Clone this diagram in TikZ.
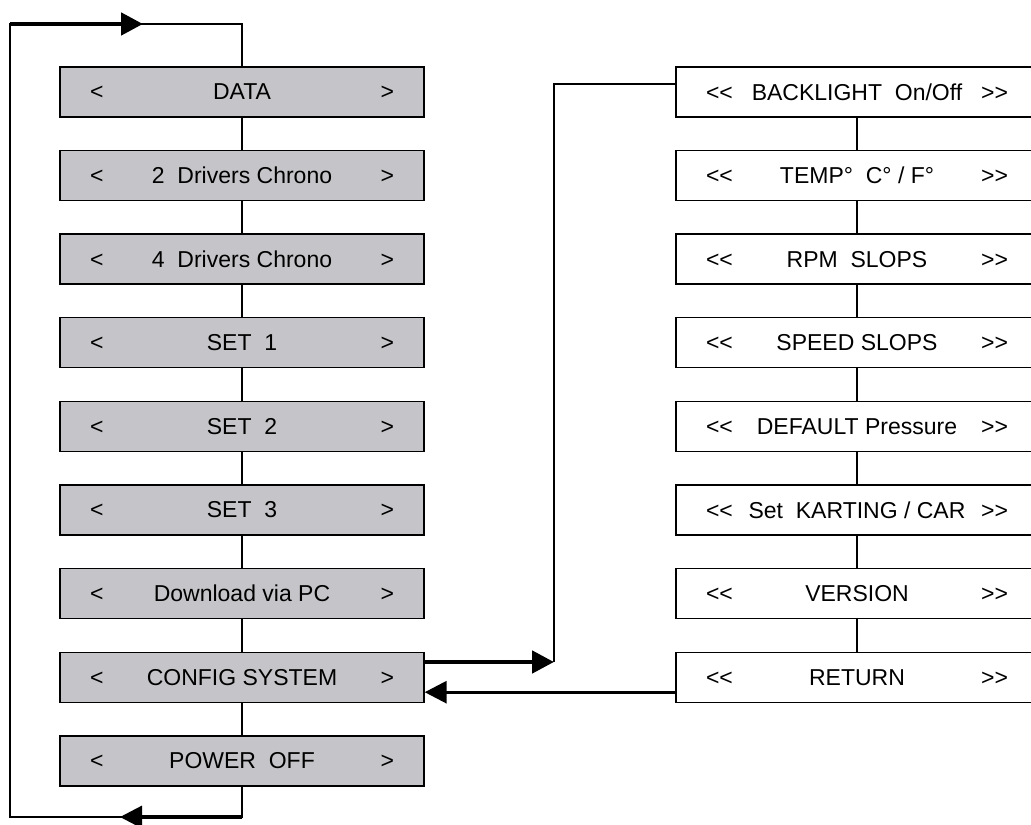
\documentclass[tikz,border=0pt]{standalone}
\usepackage{fontspec}
\setmainfont{Liberation Sans}
\usetikzlibrary{positioning,arrows.meta}
\definecolor{menugray}{RGB}{197,196,200}

\newcommand{\mainentry}[1]{\makebox[152pt]{<\hfill #1\hfill >}}
\newcommand{\cfgentry}[1]{\makebox[151pt]{<\kern0pt<\hfill #1\hfill >\kern0pt>}}

\begin{document}
\begin{tikzpicture}[x=0.5pt, y=0.5pt, node distance=41.8pt,
  every node/.style={font=\fontsize{11.5}{13}\selectfont},
  mainbox/.style={draw, line width=0.7pt, fill=menugray, minimum width=182pt, minimum height=25pt, inner xsep=15pt, inner ysep=0pt},
  cfgbox/.style={draw, line width=0.7pt, fill=white, minimum width=181pt, minimum height=25pt, inner xsep=15pt, inner ysep=0pt},
  link/.style={line width=0.6pt},
  bigarrow/.style={line width=2.4pt, -{Triangle[length=11pt,width=11pt]}},
  midarrow/.style={line width=1.6pt, -{Triangle[length=11pt,width=11pt]}}]
\useasboundingbox (0,0) rectangle (1031,824);

% main menu
\node[mainbox] (data) at (242,732) {\mainentry{DATA}};
\node[mainbox] (chrono2) [below of=data] {\mainentry{2~~Drivers Chrono}};
\node[mainbox] (chrono4) [below of=chrono2] {\mainentry{4~~Drivers Chrono}};
\node[mainbox] (set1) [below of=chrono4] {\mainentry{SET~~1}};
\node[mainbox] (set2) [below of=set1] {\mainentry{SET~~2}};
\node[mainbox] (set3) [below of=set2] {\mainentry{SET~~3}};
\node[mainbox] (download) [below of=set3] {\mainentry{Download via PC}};
\node[mainbox] (config) [below of=download] {\mainentry{CONFIG SYSTEM}};
\node[mainbox] (power) [below of=config] {\mainentry{POWER~~OFF}};

% config menu
\node[cfgbox] (backlight) at (857,732) {\cfgentry{BACKLIGHT~~On/Off}};
\node[cfgbox] (temp) [below of=backlight] {\cfgentry{TEMP°~~C° / F°}};
\node[cfgbox] (rpm) [below of=temp] {\cfgentry{RPM~~SLOPS}};
\node[cfgbox] (speed) [below of=rpm] {\cfgentry{SPEED SLOPS}};
\node[cfgbox] (default) [below of=speed] {\cfgentry{DEFAULT Pressure}};
\node[cfgbox] (karting) [below of=default] {\cfgentry{Set~~KARTING / CAR}};
\node[cfgbox] (version) [below of=karting] {\cfgentry{VERSION}};
\node[cfgbox] (ret) [below of=version] {\cfgentry{RETURN}};

\foreach \a/\b in {data/chrono2, chrono2/chrono4, chrono4/set1, set1/set2, set2/set3, set3/download, download/config, config/power, backlight/temp, temp/rpm, rpm/speed, speed/default, default/karting, karting/version, version/ret}
  \draw[link] (\a) -- (\b);

% loop round the main menu
\coordinate (topleft) at (10,800);
\coordinate (botleft) at (10,7);
\coordinate (toptip) at (143,800);
\coordinate (bottip) at (120,7);
\draw[link] (power.south) |- (botleft) -- (topleft) -| (data.north);
\draw[bigarrow] (topleft) -- (toptip);
\draw[midarrow] (power.south |- botleft) -- (bottip);

% into and out of the config menu
\coordinate (cfgbend) at (554,162);
\draw[bigarrow] (config.east |- cfgbend) -- (cfgbend);
\draw[link] (cfgbend) |- ([yshift=4pt]backlight.west);
\draw[midarrow] ([yshift=-7.5pt]ret.west) -- ([yshift=-7.5pt]config.east);
\end{tikzpicture}
\end{document}
